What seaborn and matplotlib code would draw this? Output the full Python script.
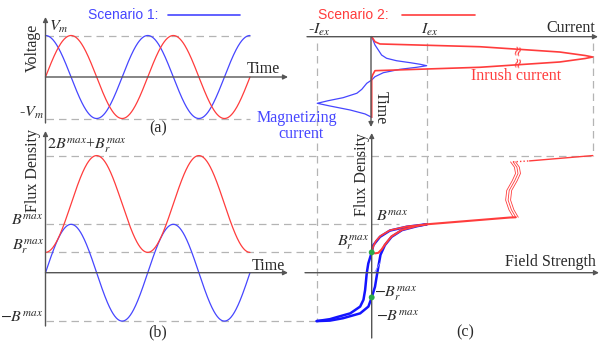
import numpy as np
import matplotlib
matplotlib.use("Agg")
import matplotlib.pyplot as plt
import seaborn as sns

# ---------------- data ----------------
VM = 1.0            # voltage amplitude
BMAX = 1.0          # peak flux density
BR = 0.42           # residual flux density (scenario 2 start)
BR_NEG = 0.51       # -Br point on the loop
N_PERIODS = 2
IEX = 1.0           # magnetizing current peak

# magnetizing current (scenario 1): current vs time (one period)
mag_I = [0, 0.06, 0.12, 0.18, 0.27, 0.45, 0.70, 0.88, 1.0, 0.82, 0.51, 0.21, 0.06, 0.0,
         -0.09, -0.18, -0.27, -0.52, -0.79, -0.99, -0.76, -0.39, -0.12, 0.0]
mag_t = [0, 0.105, 0.168, 0.232, 0.273, 0.304, 0.329, 0.349, 0.367, 0.387, 0.413, 0.456,
         0.506, 0.548, 0.59, 0.666, 0.716, 0.772, 0.81, 0.843, 0.877, 0.928, 0.978, 1.02]

# inrush current (scenario 2)
inr_I = [0, 0.06, 0.15, 1.97, 3.42, 3.88, 4.02, 3.88, 3.42, 1.97, 0.06, 0.02, 0.0, 0.0]
inr_t = [0, 0.064, 0.092, 0.127, 0.194, 0.238, 0.257, 0.276, 0.32, 0.387, 0.43, 0.48, 0.52, 1.02]

# hysteresis loop, upper (descending) branch
up_H = [1.0, 0.64, 0.33, 0.15, 0.03, 0.0, -0.062, -0.09, -0.12, -0.15, -0.21, -0.39, -0.64, -0.76, -1.0]
up_B = [1.0, 0.95, 0.87, 0.74, 0.57, 0.42, 0.19, -0.01, -0.36, -0.56, -0.70, -0.84, -0.92, -0.96, -1.0]
# lower (ascending) branch
lo_H = [-1.0, -0.76, -0.52, -0.21, -0.06, 0.0, 0.06, 0.09, 0.12, 0.16, 0.24, 0.36, 0.55, 0.82, 1.0]
lo_B = [-1.0, -0.99, -0.94, -0.84, -0.70, -0.51, -0.29, -0.08, 0.12, 0.37, 0.57, 0.74, 0.88, 0.96, 1.0]

# scenario 2 B-H path
red_H = [0.0, 0.06, 0.12, 0.18, 0.24, 0.36, 0.55, 0.82, 1.0, 2.51, 2.62]
red_B = [0.42, 0.40, 0.41, 0.48, 0.58, 0.75, 0.885, 0.965, 1.0, 1.14, 1.145]
red2_H = [0.0, 0.03, 0.08, 0.16, 0.33, 0.64, 1.0]
red2_B = [0.42, 0.55, 0.66, 0.76, 0.875, 0.955, 1.0]
# axis break squiggle
sq_H = [2.62, 2.54, 2.48, 2.50, 2.60, 2.66, 2.64, 2.57]
sq_B = [1.145, 1.30, 1.50, 1.70, 1.90, 2.05, 2.18, 2.29]
# saturated part above the break
top_H = [2.87, 4.02]
top_B = [2.31, 2.42]

# ---------------- panel scales (pixel mapping) ----------------
X0_T, SX_T = 45.5, 102.25          # time axis, px per period
Y0_A, SY_A = 77.0, 41.5            # voltage
Y0_B, SY_B = 272.7, 48.4           # flux density
X0_H, SX_H = 371.7, 55.0           # field strength / current
Y0_D, SY_D = 36.7, 79.0            # time (downwards) in top-right panel

def pa(t, v):
    return X0_T + SX_T * np.asarray(t), Y0_A - SY_A * np.asarray(v)

def pb(t, b):
    return X0_T + SX_T * np.asarray(t), Y0_B - SY_B * np.asarray(b)

def pc(h, b):
    return X0_H + SX_H * np.asarray(h, float), Y0_B - SY_B * np.asarray(b, float)

def pd(i, t):
    return X0_H + SX_H * np.asarray(i, float), Y0_D + SY_D * np.asarray(t, float)

# ---------------- figure ----------------
sns.set_theme(style="white")
plt.rcParams['font.family'] = ['Liberation Serif', 'DejaVu Serif']
plt.rcParams['mathtext.fontset'] = 'stix'

fig = plt.figure(figsize=(6.01, 3.46), dpi=100)
ax = fig.add_axes([0, 0, 1, 1])
ax.set_xlim(0, 601)
ax.set_ylim(346, 0)
ax.axis('off')

BLUE = '#4646ff'
RED = '#ff3c3c'
DBLUE = '#1414ff'
AXC = '#555555'
DASH = '#b4b4b4'
TXT = '#2a2a2a'
FS = 11.5

def line(x, y, **kw):
    sns.lineplot(x=np.asarray(x), y=np.asarray(y), sort=False, estimator=None,
                 ax=ax, legend=False, **kw)

def dashed(x, y):
    ax.plot(x, y, color=DASH, lw=0.9, dashes=(6, 4), zorder=1)

def arrow(p0, p1):
    ax.annotate('', xy=p1, xytext=p0,
                arrowprops=dict(arrowstyle='-|>', color=AXC, lw=1.0,
                                mutation_scale=7, shrinkA=0, shrinkB=0), zorder=2)

t = np.linspace(0, N_PERIODS, 500)
w = 2 * np.pi * t

# ----- panel (a) -----
xa, ya_top = pa([0, N_PERIODS], [VM, VM])
dashed(xa, ya_top)
xa, ya_bot = pa([0, N_PERIODS], [-VM, -VM])
dashed(xa, ya_bot)
x, y = pa(t, VM * np.cos(w)); line(x, y, color=BLUE, lw=0.9)
x, y = pa(t, VM * np.sin(w)); line(x, y, color=RED, lw=0.9)
arrow((X0_T, 123), (X0_T, 17))
arrow((X0_T, Y0_A), (288, Y0_A))
ax.text(33, 48, 'Voltage', rotation=90, ha='center', va='center', fontsize=FS, color=TXT)
ax.text(49, 27, r'$V_m$', ha='left', va='center', fontsize=FS, color=TXT)
ax.text(44, 113, r'-$V_m$', ha='right', va='center', fontsize=FS, color=TXT)
ax.text(247, 69, 'Time', ha='left', va='center', fontsize=FS, color=TXT)
ax.text(158, 128, '(a)', ha='center', va='center', fontsize=FS, color=TXT)

# ----- panel (b) -----
yy = pb(0, 2 * BMAX + BR)[1]
dashed([X0_T, pc(top_H[-1], 0)[0]], [yy, yy])
yy = pb(0, BMAX)[1]
dashed([X0_T, pc(0.5, 0)[0]], [yy, yy])
yy = pb(0, BR)[1]
dashed([X0_T, X0_H], [yy, yy])
yy = pb(0, -BMAX)[1]
dashed([X0_T, pc(-IEX, 0)[0]], [yy, yy])
x, y = pb(t, BMAX * np.sin(w)); line(x, y, color=BLUE, lw=0.9)
x, y = pb(t, BR + BMAX * (1 - np.cos(w))); line(x, y, color=RED, lw=0.9)
arrow((X0_T, 326), (X0_T, 131))
arrow((X0_T, Y0_B), (288, Y0_B))
ax.text(33, 170, 'Flux Density', rotation=90, ha='center', va='center', fontsize=FS, color=TXT)
ax.text(47, 146, r'$2B^{max}$+$B_r^{max}$', ha='left', va='center', fontsize=FS, color=TXT)
ax.text(43, 221, r'$B^{max}$', ha='right', va='center', fontsize=FS, color=TXT)
ax.text(44, 247, r'$B_r^{max}$', ha='right', va='center', fontsize=FS, color=TXT)
ax.text(43, 318, r'$-B^{max}$', ha='right', va='center', fontsize=FS, color=TXT)
ax.text(252, 266, 'Time', ha='left', va='center', fontsize=FS, color=TXT)
ax.text(158, 332, '(b)', ha='center', va='center', fontsize=FS, color=TXT)

# ----- vertical dashed guides (right column) -----
for ival, bval in [(-IEX, -BMAX), (IEX, BMAX), (top_H[-1], 2 * BMAX + BR)]:
    xx = pc(ival, 0)[0]
    dashed([xx, xx], [43, pc(0, bval)[1]])

# ----- panel (c): B-H -----
x, y = pc(up_H, up_B); line(x, y, color=DBLUE, lw=1.8)
x, y = pc(lo_H, lo_B); line(x, y, color=DBLUE, lw=1.8)
x, y = pc([0.05, 0.15], [0.0, 0.2]); line(x, y, color='#8888ff', lw=0.6)
x, y = pc(red_H, red_B); line(x, y, color=RED, lw=1.5)
x, y = pc(red2_H, red2_B); line(x, y, color=RED, lw=1.3)
for off in (-0.045, 0.0, 0.045):
    x, y = pc(np.array(sq_H) + off, sq_B); line(x, y, color=RED, lw=0.6)
x, y = pc([sq_H[-1], top_H[0]], [sq_B[-1], top_B[0]])
ax.plot(x, y, color=RED, lw=1.0, ls=(0, (1, 1.5)))
x, y = pc(top_H, top_B); line(x, y, color=RED, lw=1.0)
gx, gy = pc([0, 0], [BR, -BR_NEG])
ax.scatter(gx, gy, s=18, color='#2aa84a', zorder=5, edgecolors='none')
arrow((X0_H, 338), (X0_H, 133))
arrow((305, Y0_B), (599, Y0_B))
ax.text(362, 174, 'Flux Density', rotation=90, ha='center', va='center', fontsize=FS, color=TXT)
ax.text(376, 217, r'$B^{max}$', ha='left', va='center', fontsize=FS, color=TXT)
ax.text(369, 243, r'$B_r^{max}$', ha='right', va='center', fontsize=FS, color=TXT)
ax.text(374, 294, r'$-B_r^{max}$', ha='left', va='center', fontsize=FS, color=TXT)
ax.text(376, 317, r'$-B^{max}$', ha='left', va='center', fontsize=FS, color=TXT)
ax.text(596, 262, 'Field Strength', ha='right', va='center', fontsize=FS, color=TXT)
ax.text(465, 332, '(c)', ha='center', va='center', fontsize=FS, color=TXT)

# ----- top-right: current vs time -----
x, y = pd(mag_I, mag_t); line(x, y, color=BLUE, lw=0.9)
x, y = pd(inr_I, inr_t); line(x, y, color=RED, lw=1.2)
for tb in (0.172, 0.318):
    bx, by = pd(2.65, tb)
    ax.text(bx, by, '≈', rotation=75, ha='center', va='center', fontsize=10, color=RED,
            family=['DejaVu Sans'])
arrow((307, Y0_D), (598, Y0_D))
arrow((X0_H - 0.7, Y0_D), (X0_H - 0.7, 127))
ax.text(595, 28, 'Current', ha='right', va='center', fontsize=FS, color=TXT)
ax.text(308, 30, r'-$I_{ex}$', ha='left', va='center', fontsize=FS, color=TXT)
ax.text(421, 30, r'$I_{ex}$', ha='left', va='center', fontsize=FS, color=TXT)
ax.text(381, 108, 'Time', rotation=270, ha='center', va='center', fontsize=FS, color=TXT)
ax.text(471, 76, 'Inrush current', ha='left', va='center', fontsize=FS, color=RED)
ax.text(297, 118, 'Magnetizing', ha='center', va='center', fontsize=FS, color=BLUE)
ax.text(301, 134, 'current', ha='center', va='center', fontsize=FS, color=BLUE)

# ----- scenario keys -----
ax.text(88, 15, 'Scenario 1:', ha='left', va='center', fontsize=10, color=BLUE,
        family=['Liberation Sans'])
ax.plot([168, 240], [15, 15], color=BLUE, lw=1.2)
ax.text(318, 15, 'Scenario 2:', ha='left', va='center', fontsize=10, color=RED,
        family=['Liberation Sans'])
ax.plot([402, 475], [15, 15], color=RED, lw=1.2)

fig.savefig('out.png', dpi=100)
